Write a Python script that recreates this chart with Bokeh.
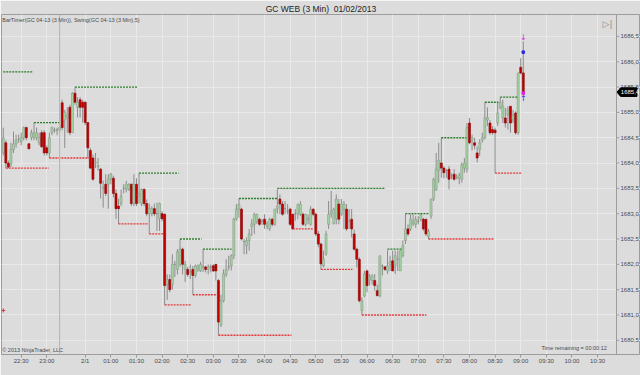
from bokeh.plotting import figure
from bokeh.models import ColumnDataSource, FixedTicker, Label, Span, Grid
from bokeh.core.properties import value
from bokeh.embed import file_html
from bokeh.resources import INLINE

# ---------------- data ----------------
title_text = "GC WEB (3 Min) \u00a001/02/2013"
indicator_text = "BarTimer(GC 04-13 (3 Min)), Swing(GC 04-13 (3 Min),5)"
copyright_text = "\u00a9 2013 NinjaTrader, LLC"
timer_text = "Time remaining = 00:00:12"

# bar number (3-minute bars, 10 bars per half hour)
first_bar = -7
opens = [
    1684.2, 1684.4, 1684.0, 1683.98, 1684.27, 1684.38, 1684.47, 1684.42, 1684.5, 1684.7,
    1684.38, 1684.5, 1684.5, 1684.5, 1684.4, 1684.6, 1684.6, 1684.3, 1684.2, 1684.6,
    1684.65, 1684.65, 1684.65, 1685.19, 1684.85, 1684.9, 1685.1, 1684.6, 1685.38, 1685.1,
    1685.25, 1685.2, 1685.2, 1684.8, 1684.25, 1684.1, 1684.0, 1683.92, 1683.88, 1683.5,
    1683.58, 1683.58, 1683.68, 1683.7, 1683.4, 1683.15, 1683.2, 1683.5, 1683.48, 1683.48,
    1683.58, 1683.2, 1683.58, 1683.35, 1683.2, 1683.48, 1683.2, 1683.0, 1683.0, 1683.1,
    1683.0, 1682.9, 1683.0, 1682.99, 1681.6, 1681.7, 1681.6, 1682.0, 1681.9, 1682.0,
    1682.3, 1681.9, 1681.9, 1681.85, 1681.9, 1681.78, 1681.9, 1681.87, 1681.95, 1681.95,
    1681.9, 1681.95, 1681.97, 1682.0, 1681.68, 1680.8, 1681.28, 1681.8, 1681.95, 1681.97,
    1682.17, 1682.89, 1683.09, 1683.09, 1682.45, 1682.37, 1682.47, 1682.75, 1682.79, 1682.85,
    1682.89, 1682.85, 1682.89, 1682.75, 1682.7, 1682.89, 1682.79, 1683.1, 1683.29, 1683.19,
    1683.1, 1683.05, 1683.09, 1682.99, 1683.0, 1682.99, 1682.99, 1682.99, 1682.79, 1682.9,
    1682.79, 1683.09, 1682.99, 1682.6, 1682.4, 1681.97, 1682.2, 1682.79, 1683.0, 1682.8,
    1682.9, 1683.19, 1682.99, 1683.09, 1683.09, 1682.85, 1682.89, 1682.6, 1682.3, 1682.1,
    1681.09, 1681.38, 1681.87, 1681.7, 1681.68, 1681.68, 1681.48, 1681.38, 1681.97, 1681.95,
    1681.87, 1682.0, 1682.07, 1681.97, 1682.1, 1681.87, 1682.17, 1682.47, 1682.7, 1682.7,
    1682.8, 1682.79, 1682.85, 1682.89, 1682.89, 1682.89, 1682.55, 1682.95, 1683.29, 1683.48,
    1683.85, 1684.0, 1683.9, 1683.85, 1683.88, 1683.75, 1683.78, 1683.7, 1683.7, 1683.68,
    1683.9, 1683.88, 1684.79, 1684.45, 1684.4, 1684.2, 1684.27, 1684.45, 1684.5, 1684.85,
    1684.79, 1684.66, 1684.65, 1684.79, 1685.09, 1684.89, 1684.89, 1684.95, 1685.12, 1684.85,
    1684.99, 1684.6, 1685.89, 1685.78,
]
highs = [
    1684.7, 1684.45, 1684.05, 1684.4, 1684.62, 1684.56, 1684.56, 1684.6, 1684.72, 1684.72,
    1684.4, 1684.66, 1684.8, 1684.7, 1684.6, 1684.65, 1684.65, 1684.35, 1684.6, 1684.72,
    1684.7, 1684.7, 1684.75, 1685.25, 1685.05, 1685.1, 1685.15, 1685.4, 1685.5, 1685.3,
    1685.3, 1685.25, 1685.22, 1684.8, 1684.3, 1684.17, 1684.2, 1684.1, 1683.9, 1683.65,
    1683.78, 1683.78, 1683.81, 1683.75, 1683.48, 1683.3, 1683.48, 1683.58, 1683.65, 1683.6,
    1683.6, 1683.78, 1683.7, 1683.8, 1683.5, 1683.5, 1683.28, 1683.2, 1683.15, 1683.2,
    1683.22, 1683.22, 1683.05, 1683.0, 1681.8, 1681.8, 1682.2, 1682.07, 1682.3, 1682.5,
    1682.33, 1682.07, 1681.95, 1682.0, 1681.97, 1682.0, 1682.0, 1682.05, 1682.3, 1681.97,
    1682.0, 1682.0, 1682.0, 1682.0, 1681.71, 1681.4, 1681.9, 1682.1, 1682.17, 1682.2,
    1682.92, 1683.19, 1683.3, 1683.12, 1682.5, 1682.53, 1682.7, 1682.89, 1683.02, 1683.0,
    1682.92, 1682.9, 1682.99, 1682.85, 1682.92, 1682.92, 1683.09, 1683.48, 1683.38, 1683.25,
    1683.25, 1683.19, 1683.12, 1682.99, 1683.09, 1683.19, 1683.25, 1683.02, 1683.0, 1682.99,
    1683.15, 1683.1, 1683.02, 1682.66, 1682.43, 1682.27, 1682.66, 1683.25, 1683.45, 1683.12,
    1683.38, 1683.29, 1683.29, 1683.25, 1683.19, 1683.09, 1683.09, 1682.69, 1682.33, 1682.14,
    1681.35, 1681.87, 1681.9, 1681.81, 1681.8, 1681.81, 1681.6, 1682.17, 1682.0, 1681.97,
    1682.28, 1682.17, 1682.27, 1682.27, 1682.27, 1682.27, 1682.47, 1683.0, 1682.79, 1682.99,
    1682.99, 1682.95, 1682.95, 1683.0, 1682.92, 1682.89, 1682.7, 1683.29, 1683.71, 1684.2,
    1684.4, 1684.5, 1683.94, 1683.88, 1683.94, 1683.8, 1683.88, 1683.78, 1683.81, 1684.01,
    1684.1, 1684.79, 1684.89, 1684.56, 1684.5, 1684.33, 1684.47, 1684.6, 1685.2, 1685.1,
    1684.85, 1684.73, 1684.7, 1685.19, 1685.3, 1685.25, 1685.09, 1685.12, 1685.12, 1685.05,
    1685.02, 1685.78, 1686.07, 1686.4,
]
lows = [
    1684.15, 1683.9, 1683.9, 1683.92, 1684.2, 1684.3, 1684.4, 1684.35, 1684.45, 1684.45,
    1684.28, 1684.45, 1684.45, 1684.45, 1684.35, 1684.3, 1684.15, 1684.15, 1684.1, 1684.55,
    1684.6, 1684.55, 1684.6, 1684.65, 1684.3, 1684.6, 1684.55, 1684.6, 1685.15, 1684.9,
    1684.9, 1684.8, 1684.75, 1684.1, 1683.88, 1683.65, 1683.9, 1683.85, 1683.3, 1683.12,
    1683.35, 1683.1, 1683.58, 1683.32, 1682.9, 1682.8, 1683.15, 1683.4, 1683.42, 1683.45,
    1683.15, 1683.15, 1683.15, 1683.2, 1683.15, 1683.15, 1682.95, 1682.6, 1682.95, 1682.95,
    1682.66, 1682.66, 1682.85, 1681.2, 1681.3, 1681.45, 1681.5, 1681.75, 1681.8, 1681.95,
    1681.8, 1681.65, 1681.75, 1681.71, 1681.4, 1681.74, 1681.85, 1681.85, 1681.85, 1681.84,
    1681.8, 1681.84, 1681.85, 1681.68, 1680.6, 1680.76, 1681.25, 1681.75, 1681.88, 1681.88,
    1682.1, 1682.86, 1682.92, 1682.47, 1682.2, 1682.2, 1682.27, 1682.56, 1682.6, 1682.8,
    1682.76, 1682.78, 1682.7, 1682.69, 1682.66, 1682.75, 1682.76, 1683.0, 1682.99, 1682.96,
    1682.99, 1682.99, 1682.76, 1682.69, 1682.86, 1682.89, 1682.95, 1682.76, 1682.75, 1682.79,
    1682.76, 1682.95, 1682.56, 1682.34, 1681.9, 1681.94, 1682.17, 1682.7, 1682.92, 1682.79,
    1682.79, 1682.79, 1682.96, 1682.7, 1682.66, 1682.7, 1682.53, 1682.27, 1681.94, 1681.25,
    1681.0, 1681.35, 1681.45, 1681.58, 1681.6, 1681.48, 1681.38, 1681.35, 1681.78, 1681.87,
    1681.81, 1681.87, 1681.87, 1681.81, 1681.87, 1681.87, 1682.14, 1682.4, 1682.56, 1682.66,
    1682.76, 1682.72, 1682.79, 1682.85, 1682.66, 1682.56, 1682.5, 1682.9, 1683.25, 1683.45,
    1683.61, 1683.71, 1683.7, 1683.71, 1683.48, 1683.68, 1683.65, 1683.68, 1683.58, 1683.61,
    1683.81, 1683.81, 1684.37, 1684.25, 1684.27, 1684.01, 1684.14, 1684.4, 1684.47, 1684.73,
    1684.56, 1684.56, 1683.8, 1684.73, 1685.06, 1684.79, 1684.7, 1684.66, 1684.6, 1684.79,
    1684.56, 1684.56, 1685.75, 1685.35,
]
closes = [
    1684.5, 1684.0, 1683.92, 1684.27, 1684.38, 1684.45, 1684.47, 1684.5, 1684.7, 1684.5,
    1684.28, 1684.6, 1684.6, 1684.6, 1684.5, 1684.32, 1684.2, 1684.2, 1684.5, 1684.7,
    1684.65, 1684.65, 1684.7, 1684.7, 1685.0, 1684.95, 1684.6, 1685.38, 1685.2, 1685.2,
    1685.1, 1685.1, 1684.8, 1684.3, 1683.9, 1683.68, 1684.02, 1683.95, 1683.6, 1683.52,
    1683.4, 1683.68, 1683.78, 1683.4, 1683.1, 1683.1, 1683.35, 1683.5, 1683.58, 1683.58,
    1683.2, 1683.58, 1683.2, 1683.4, 1683.48, 1683.2, 1683.0, 1683.1, 1683.1, 1683.0,
    1683.0, 1683.2, 1682.9, 1681.58, 1681.7, 1681.5, 1682.0, 1682.0, 1682.25, 1682.3,
    1682.0, 1682.0, 1681.8, 1681.85, 1681.78, 1681.97, 1681.97, 1682.0, 1681.95, 1681.9,
    1681.95, 1681.95, 1681.87, 1681.87, 1680.86, 1681.28, 1681.81, 1681.9, 1681.95, 1682.17,
    1682.89, 1683.09, 1683.19, 1682.5, 1682.45, 1682.47, 1682.6, 1682.8, 1682.99, 1682.99,
    1682.79, 1682.85, 1682.79, 1682.8, 1682.89, 1682.79, 1683.09, 1683.15, 1683.19, 1682.99,
    1683.1, 1683.05, 1682.79, 1682.7, 1683.0, 1683.19, 1683.19, 1682.79, 1682.99, 1682.9,
    1683.09, 1682.99, 1682.6, 1682.4, 1682.01, 1682.1, 1682.6, 1682.99, 1683.05, 1683.09,
    1683.29, 1682.89, 1683.19, 1683.19, 1682.7, 1682.85, 1682.7, 1682.3, 1682.1, 1681.28,
    1681.28, 1681.81, 1681.58, 1681.75, 1681.78, 1681.58, 1681.38, 1682.17, 1681.97, 1681.9,
    1681.97, 1682.05, 1681.87, 1682.17, 1682.1, 1682.27, 1682.37, 1682.7, 1682.6, 1682.89,
    1682.85, 1682.89, 1682.85, 1682.99, 1682.7, 1682.6, 1682.65, 1683.29, 1683.68, 1683.88,
    1684.05, 1683.9, 1683.81, 1683.85, 1683.68, 1683.75, 1683.68, 1683.72, 1683.75, 1683.97,
    1684.0, 1684.7, 1684.4, 1684.5, 1684.35, 1684.1, 1684.4, 1684.5, 1684.89, 1684.9,
    1684.6, 1684.6, 1684.6, 1684.99, 1685.2, 1685.12, 1684.79, 1685.05, 1684.79, 1684.95,
    1684.6, 1685.78, 1685.78, 1685.4,
]
bars = list(range(first_bar, first_bar + len(closes)))

# Swing(5) indicator levels: start bar, end bar, price
swing_high_start = [-7, 5, 21, 46, 62, 71, 85, 100, 143, 150, 164, 181, 187]
swing_high_end = [4.4, 15.7, 45.4, 61.4, 70.4, 82.1, 100.0, 142.2, 148.5, 159.0, 173.8, 186.3, 193.7]
swing_high_price = [1685.8, 1684.8, 1685.5, 1683.8, 1682.5, 1682.3, 1683.3, 1683.5, 1682.3, 1683.0, 1684.5, 1685.2, 1685.3]
swing_low_start = [-6, 11, 38, 50, 56, 67, 77, 106, 117, 133, 159, 185]
swing_low_end = [10.7, 26.7, 49.7, 55.6, 66.5, 76.6, 105.5, 114.1, 129.3, 158.2, 184.4, 195.3]
swing_low_price = [1683.9, 1684.1, 1682.8, 1682.6, 1681.2, 1681.4, 1680.6, 1682.7, 1681.9, 1681.0, 1682.5, 1683.8]

# signal marks on the last bar: arrows and small dots
arrow_bar = [196, 196]
arrow_price = [1686.47, 1685.27]
arrow_glyph = ["\u2193", "\u2191"]
arrow_color = ["#e020e0", "#2a2ae0"]
dot_bar = [196, 196]
dot_price = [1686.19, 1685.38]
dot_color = ["#2a2ae0", "#e020e0"]
misc_bar = [-7]
misc_price = [1681.09]

session_breaks = [15]

x_tick_bars = [0, 10, 25, 35, 45, 55, 65, 75, 85, 95, 105, 115, 125, 135, 145, 155,
               165, 175, 185, 195, 205, 215, 225]
x_tick_labels = ["22:30", "23:00", "2/1", "01:00", "01:30", "02:00", "02:30", "03:00",
                 "03:30", "04:00", "04:30", "05:00", "05:30", "06:00", "06:30", "07:00",
                 "07:30", "08:00", "08:30", "09:00", "09:30", "10:00", "10:30"]
y_tick_values = [1680.5, 1681.0, 1681.5, 1682.0, 1682.5, 1683.0, 1683.5, 1684.0,
                 1684.5, 1685.0, 1685.5, 1686.0, 1686.5]
y_tick_labels = ["1680,5", "1681,0", "1681,5", "1682,0", "1682,5", "1683,0", "1683,5",
                 "1684,0", "1684,5", "1685,0", "1685,5", "1686,0", "1686,5"]

# ---------------- styling / layout ----------------
BG = "#dcdcdc"
GRID = "#e9e9e9"
FRAME = "#9c9c9c"
TXT = "#4a4a4a"
FONT = "Liberation Sans"
UP_FILL, UP_LINE = "#a2d6a2", "#8a9a8a"
DN_FILL, DN_LINE = "#c40000", "#8a0000"
WICK = "#8c8c8c"

PX_PER_BAR = 2.5616          # horizontal scale of the reference
x_lo, x_hi = -7.69, 241.76   # frame covers the price-scale strip too
axis_x = 232.39              # where the price scale sits
y_lo, y_hi = 1680.22, 1686.933

p = figure(width=640, height=375, output_backend="svg", toolbar_location=None,
           x_range=(x_lo, x_hi), y_range=(y_lo, y_hi), y_axis_location=None,
           min_border_left=1, min_border_right=0, min_border_top=13, min_border_bottom=21,
           background_fill_color=BG, border_fill_color=BG)

p.title.text = title_text
p.title.align = "center"
p.title.text_font = FONT
p.title.text_font_size = "8.5px"
p.title.text_font_style = "normal"
p.title.text_color = "#222222"
p.title.standoff = 2

p.outline_line_color = FRAME
p.outline_line_width = 1

xa = p.xaxis[0]
xa.bounds = (x_lo, axis_x)
xa.axis_line_color = FRAME
xa.major_tick_line_color = FRAME
xa.major_tick_out = 3
xa.major_tick_in = 0
xa.minor_tick_out = 0
xa.minor_tick_in = 0
xa.major_label_text_font = FONT
xa.major_label_text_font_size = "6px"
xa.major_label_text_color = TXT
xa.major_label_standoff = 0
xa.ticker = FixedTicker(ticks=x_tick_bars)
xa.major_label_overrides = dict(zip(x_tick_bars, x_tick_labels))
p.xgrid.grid_line_color = GRID
p.xgrid.grid_line_width = 1

ygrid = Grid(dimension=1, ticker=FixedTicker(ticks=y_tick_values), bounds=(x_lo, axis_x),
             grid_line_color=GRID, grid_line_width=1)
p.add_layout(ygrid)

for b in session_breaks:
    p.add_layout(Span(location=b, dimension="height", line_color="#b4b4b4", line_width=1))

# ---------------- candles ----------------
tops = [max(o, c) for o, c in zip(opens, closes)]
bottoms = [min(o, c) for o, c in zip(opens, closes)]
fills = [UP_FILL if c > o else (DN_FILL if c < o else "#9a9a9a") for o, c in zip(opens, closes)]
lines = [UP_LINE if c > o else (DN_LINE if c < o else "#8a8a8a") for o, c in zip(opens, closes)]
src = ColumnDataSource(dict(x=bars, o=opens, h=highs, l=lows, c=closes,
                            top=tops, bottom=bottoms, fill=fills, line=lines))

p.segment(x0="x", y0="l", x1="x", y1="h", source=src, line_color=WICK, line_width=1)
p.vbar(x="x", width=0.78, top="top", bottom="bottom", source=src,
       fill_color="fill", line_color="line", line_width=0.6)

# ---------------- swing levels ----------------
p.segment(x0=swing_high_start, y0=swing_high_price, x1=swing_high_end, y1=swing_high_price,
          line_color="#2b7d2b", line_width=1.3, line_dash="2 1")
p.segment(x0=swing_low_start, y0=swing_low_price, x1=swing_low_end, y1=swing_low_price,
          line_color="#e23a3a", line_width=1.3, line_dash="2 1")

# ---------------- signal marks ----------------
p.text(x=arrow_bar, y=arrow_price, text=arrow_glyph, text_color=arrow_color,
       text_align="center", text_baseline="middle", text_font_size="8px",
       text_font=value("DejaVu Sans"))
p.scatter(x=dot_bar, y=dot_price, marker="square", size=2.5, fill_color=dot_color,
          line_color=dot_color)
p.scatter(x=misc_bar, y=misc_price, marker="cross", size=4, line_color="#e03030", line_width=1)

# ---------------- price scale (right) ----------------
p.add_layout(Span(location=axis_x, dimension="height", line_color=FRAME, line_width=1))
tick_len = 3 / PX_PER_BAR
p.segment(x0=[axis_x] * len(y_tick_values), y0=y_tick_values,
          x1=[axis_x + tick_len] * len(y_tick_values), y1=y_tick_values,
          line_color=FRAME, line_width=1)
p.text(x=[axis_x + 4 / PX_PER_BAR] * len(y_tick_values), y=y_tick_values, text=y_tick_labels,
       text_align="left", text_baseline="middle", text_font_size="6px",
       text_font=value(FONT), text_color=TXT)

# last-price marker on the scale
last = closes[-1]
h = 0.085
mx = [axis_x + 0.2, axis_x + 1.6, axis_x + 8.0, axis_x + 8.0, axis_x + 1.6]
my = [last, last + h, last + h, last - h, last - h]
p.patch(x=mx, y=my, fill_color="black", line_color="black")
p.text(x=[axis_x + 1.7], y=[last], text=[("%.1f" % last).replace(".", ",")],
       text_align="left", text_baseline="middle", text_font_size="6px",
       text_font=value(FONT), text_color="white")

# ---------------- texts ----------------
p.add_layout(Label(x=x_lo + 0.3, y=y_hi - 0.05, text=indicator_text, text_baseline="top",
                   text_align="left", text_font=FONT, text_font_size="5.5px", text_color=TXT))
p.add_layout(Label(x=x_lo + 0.3, y=y_lo + 0.03, text=copyright_text, text_baseline="bottom",
                   text_align="left", text_font=FONT, text_font_size="5.5px", text_color=TXT))
p.add_layout(Label(x=axis_x - 3.8, y=y_lo + 0.06, text=timer_text, text_baseline="bottom",
                   text_align="right", text_font=FONT, text_font_size="5.5px", text_color=TXT))
p.add_layout(Label(x=axis_x - 3.5, y=y_hi - 0.18, text="\u25b7|", text_baseline="middle",
                   text_align="center", text_font="DejaVu Sans", text_font_size="9px",
                   text_color="#8a8a8a"))

open("out.html", "w").write(file_html(p, INLINE))
